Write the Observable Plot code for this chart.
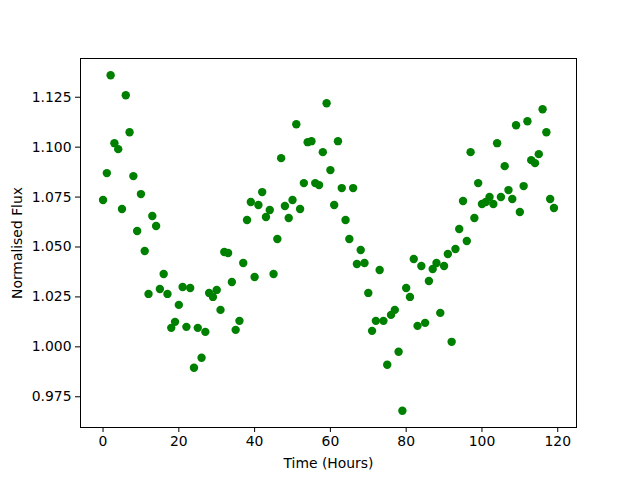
<!DOCTYPE html>
<html>
<head>
<meta charset="utf-8">
<script src="https://cdn.jsdelivr.net/npm/d3@7"></script>
<script src="https://cdn.jsdelivr.net/npm/@observablehq/plot@0.6"></script>
<style>
  html, body { margin: 0; padding: 0; background: #fff; }
  svg { display: block; }
</style>
</head>
<body>
<div id="chart"></div>
<script>
const hours = d3.range(120);
const flux = [
  1.0735, 1.087, 1.136, 1.102, 1.099, 1.069, 1.126, 1.1075, 1.0855, 1.058,
  1.0765, 1.048, 1.0265, 1.0655, 1.0605, 1.029, 1.0365, 1.0265, 1.0095, 1.0125,
  1.021, 1.030, 1.010, 1.0295, 0.9895, 1.0095, 0.9945, 1.0075, 1.027, 1.025,
  1.0285, 1.0185, 1.0475, 1.047, 1.0325, 1.0085, 1.013, 1.042, 1.0635, 1.0725,
  1.035, 1.071, 1.0775, 1.065, 1.0685, 1.0365, 1.054, 1.0945, 1.0705, 1.0645,
  1.0735, 1.1115, 1.069, 1.082, 1.1025, 1.103, 1.082, 1.081, 1.0975, 1.122,
  1.0885, 1.071, 1.103, 1.0795, 1.0635, 1.054, 1.0795, 1.0415, 1.0485, 1.042,
  1.027, 1.008, 1.013, 1.0385, 1.013, 0.991, 1.016, 1.0185, 0.9975, 0.968,
  1.0295, 1.025, 1.044, 1.0105, 1.0405, 1.012, 1.033, 1.039, 1.042, 1.017,
  1.0405, 1.0465, 1.0025, 1.049, 1.059, 1.073, 1.053, 1.0975, 1.0645, 1.082,
  1.0715, 1.0725, 1.075, 1.0715, 1.102, 1.075, 1.0905, 1.0785, 1.074, 1.111,
  1.0675, 1.0805, 1.113, 1.0935, 1.092, 1.0965, 1.119, 1.1075, 1.074, 1.0695
];
const xTicks = [0, 20, 40, 60, 80, 100, 120];
const yTicks = [0.975, 1.000, 1.025, 1.050, 1.075, 1.100, 1.125];

const data = hours.map((h, i) => ({h, f: flux[i]}));

const chart = Plot.plot({
  width: 640,
  height: 480,
  marginLeft: 80,
  marginRight: 64,
  marginTop: 58,
  marginBottom: 53,
  style: {fontFamily: "DejaVu Sans", fontSize: "13.9px", color: "black", background: "white"},
  x: {domain: [-5.95, 124.95]},
  y: {domain: [0.9596, 1.1444]},
  marks: [
    Plot.frame({stroke: "black", strokeWidth: 1}),
    Plot.axisX({ticks: xTicks, tickSize: 5, tickPadding: 4, fontSize: 13.9,
      label: "Time (Hours)", labelAnchor: "center", labelOffset: 40, labelArrow: "none"}),
    Plot.axisY({ticks: yTicks, tickSize: 5, tickPadding: 4, fontSize: 13.9, tickFormat: d3.format(".3f"),
      label: "Normalised Flux", labelAnchor: "center", labelOffset: 68, labelArrow: "none"}),
    Plot.dot(data, {x: "h", y: "f", r: 4.2, fill: "#008000", stroke: "none"})
  ]
});
document.getElementById("chart").appendChild(chart);
</script>
</body>
</html>
